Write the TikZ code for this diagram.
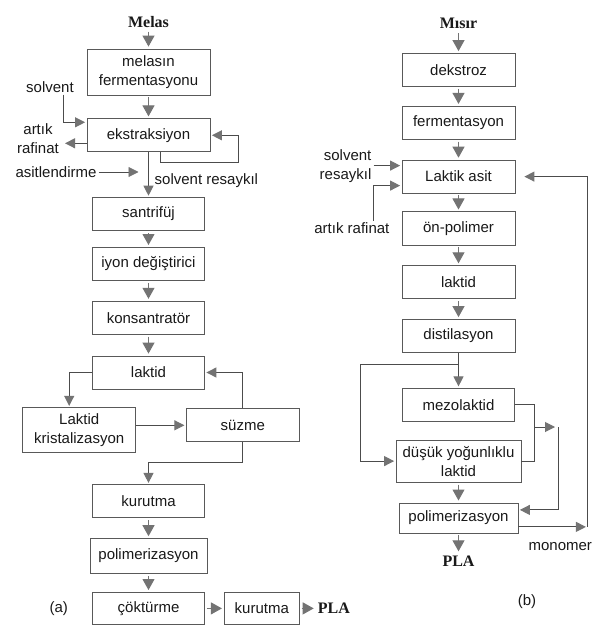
\documentclass[tikz,border=0pt]{standalone}
\usepackage{fontspec}
\setmainfont{Liberation Serif}
\setsansfont{Liberation Sans}
\usetikzlibrary{arrows.meta,positioning}

\begin{document}
\begin{tikzpicture}[x=1pt,y=-1pt,
    node distance=20pt,
    every node/.style={font=\fontsize{15}{19}\selectfont\sffamily,text=black!90},
    box/.style={rectangle,draw=black!65,line width=0.8pt,minimum width=112pt,minimum height=33pt,align=center,inner sep=2pt},
    lbl/.style={align=center,inner sep=2pt},
    title/.style={font=\fontsize{16}{18}\selectfont\rmfamily\bfseries,inner sep=2pt},
    flow/.style={draw=black!70,line width=1pt,-{Triangle[length=10pt,width=10pt,color=black!55]},shorten >=1.5pt},
    steparr/.style={draw=black!55,line width=1pt,-{Triangle[length=11pt,width=12pt,color=black!55]},shorten <=2pt,shorten >=2pt}
]
\useasboundingbox[fill=white] (0,0) rectangle (592,628);

% (a) Melas line
\node[box,minimum width=123pt,minimum height=46pt] (melasin) at (148.5,72) {melasın\\fermentasyonu};
\node[title,above=19pt of melasin] (melas) {Melas};
\node[box,minimum width=123pt,below=23pt of melasin] (ekstr) {ekstraksiyon};
\node[box,below=45pt of ekstr] (santrifuj) {santrifüj};
\node[box,below=16pt of santrifuj] (iyon) {iyon değiştirici};
\node[box,below=20pt of iyon] (konsan) {konsantratör};
\node[box,below=21pt of konsan] (laktidA) {laktid};
\node[box,minimum width=113pt,minimum height=45pt,below left=18pt and -44pt of laktidA] (kristal) {Laktid\\kristalizasyon};
\node[box,minimum width=113pt,below right=19pt and -19pt of laktidA] (suzme) {süzme};
\node[box,below=95pt of laktidA] (kurutmaA) {kurutma};
\node[box,minimum width=117pt,minimum height=35pt,below=20pt of kurutmaA] (poliA) {polimerizasyon};
\node[box,minimum height=32pt,below=18pt of poliA] (coktur) {çöktürme};
\node[box,minimum width=75pt,minimum height=32pt,right=19pt of coktur] (kurutmaB) {kurutma};
\node[title,right=16pt of kurutmaB] (plaA) {PLA};
\node[lbl,left=22pt of coktur] (tagA) {(a)};

% (a) side inputs
\node[lbl] (solventA) at (50,87) {solvent};
\node[lbl] (artikA) at (38,139) {artık\\rafinat};
\node[lbl] (asit) at (56,172) {asitlendirme};
\node[lbl,anchor=west] (resayA) at ([xshift=4pt,yshift=-28pt]ekstr.south) {solvent resaykıl};

% (b) Misir line
\node[box,minimum width=113pt] (dekstroz) at (458.5,70) {dekstroz};
\node[title,above=22pt of dekstroz] (misir) {Mısır};
\node[box,minimum width=113pt,below=19pt of dekstroz] (ferm) {fermentasyon};
\node[box,minimum width=113pt,below=20pt of ferm] (laktik) {Laktik asit};
\node[box,minimum width=113pt,below=18pt of laktik] (onpol) {ön-polimer};
\node[box,minimum width=113pt,below=20pt of onpol] (laktidB) {laktid};
\node[box,minimum width=113pt,below=20pt of laktidB] (distil) {distilasyon};
\node[box,below=35pt of distil] (mezo) {mezolaktid};
\node[box,minimum width=125pt,minimum height=42pt,below=18pt of mezo] (dusuk) {düşük yoğunlıklu\\laktid};
\node[box,minimum width=119pt,minimum height=30pt,below=20pt of dusuk] (poliB) {polimerizasyon};
\node[title,below=20pt of poliB] (plaB) {PLA};
\node[lbl] (tagB) at (527,602) {(b)};
\node[lbl,below right=7pt and 8pt of poliB] (monomer) {monomer};

% (b) side inputs
\node[lbl,align=right,left=28pt of laktik,yshift=10pt] (solvB) {solvent\\resaykıl};
\node[lbl,left=10pt of onpol] (artikB) {artık rafinat};

% helper points
\coordinate (split) at ([yshift=-12pt]distil.south);
\coordinate (merge) at (534,427);
\coordinate (join) at (558,427);
\coordinate (mono) at ([xshift=69pt,yshift=-9pt]poliB.east);

% (a) main steps
\draw[steparr] (melas) -- (melasin);
\draw[steparr] (melasin) -- (ekstr);
\draw[flow] (ekstr) -- (santrifuj);
\draw[steparr] (santrifuj) -- (iyon);
\draw[steparr] (iyon) -- (konsan);
\draw[steparr] (konsan) -- (laktidA);
\draw[steparr] (kurutmaA) -- (poliA);
\draw[steparr] (poliA) -- (coktur);
\draw[steparr] (coktur) -- (kurutmaB);
\draw[steparr] (kurutmaB) -- (plaA);

% (a) side flows
\draw[flow] ([xshift=13pt]solventA.south) |- ([yshift=13pt]ekstr.west);
\draw[flow] ([yshift=-8pt]ekstr.west) -- ([yshift=-8pt]ekstr.west -| artikA.east) [shorten >=4pt];
\draw[flow,line width=0.8pt] (asit.east) -- (asit.east -| ekstr.south) [shorten >=10pt];
\draw[flow] ([xshift=12pt]ekstr.south) |- ++(78,10) |- (ekstr.east);

% (a) laktid loop
\draw[flow] (laktidA.west) -| ([xshift=-10pt]kristal.north);
\draw[flow] ([yshift=5pt]kristal.east) -- ([yshift=5pt]kristal.east -| suzme.west);
\draw[flow] (suzme.north) |- (laktidA.east);
\draw[flow] (suzme.south) -- ++(0,20) -| (kurutmaA.north);

% (b) main steps
\draw[steparr] (misir) -- (dekstroz);
\draw[steparr] (dekstroz) -- (ferm);
\draw[steparr] (ferm) -- (laktik);
\draw[steparr] (laktik) -- (onpol);
\draw[steparr] (onpol) -- (laktidB);
\draw[steparr] (laktidB) -- (distil);
\draw[flow] (distil) -- (mezo);
\draw[steparr] (dusuk) -- (poliB);
\draw[steparr] (poliB) -- (plaB);

% (b) side flows
\draw[flow] ([yshift=11pt]laktik.west -| solvB.east) -- ([yshift=11pt]laktik.west);
\draw[flow] ([xshift=22pt]artikB.north) |- ([yshift=-9pt]laktik.west);
\draw[flow] (split) -| ([xshift=-35pt]dusuk.west) -- (dusuk.west);
\draw[draw=black!70,line width=1pt] (mezo.east) -| (merge);
\draw[draw=black!70,line width=1pt] (dusuk.east) -| (merge);
\draw[flow] (merge) -- (join) [shorten >=3pt];
\draw[flow] (join) |- ([yshift=8pt]poliB.east);
\draw[flow] ([yshift=-9pt]poliB.east) -- (mono);
\draw[flow] (mono) |- (laktik.east) [shorten >=9pt];

\end{tikzpicture}
\end{document}
